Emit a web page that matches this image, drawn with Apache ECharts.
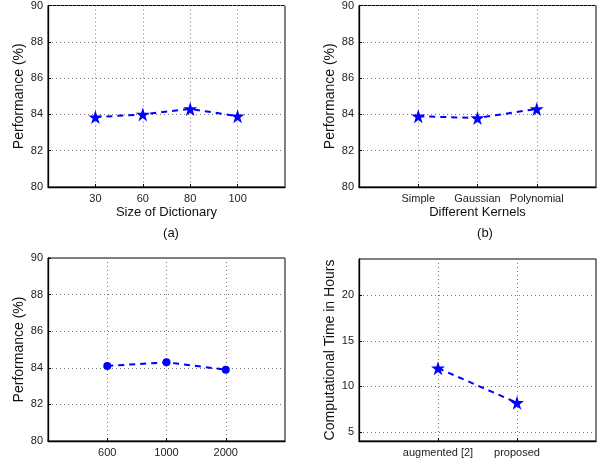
<!DOCTYPE html>
<html>
<head>
<meta charset="utf-8">
<script src="https://cdn.jsdelivr.net/npm/echarts@6/dist/echarts.min.js"></script>
<style>
  html, body { margin: 0; padding: 0; background: #fff; }
  #chart { width: 603px; height: 458px; }
</style>
</head>
<body>
<div id="chart"></div>
<script>
// (a) dictionary size
const dictSizes = ['30', '60', '80', '100']
const dictPerf = [83.85, 84.0, 84.3, 83.9]
// (b) kernels
const kernels = ['Simple', 'Gaussian', 'Polynomial']
const kernelPerf = [83.9, 83.8, 84.3]
// (c) third parameter
const thirdVals = ['600', '1000', '2000']
const thirdPerf = [84.1, 84.3, 83.9]
// (d) computational time
const methods = ['augmented [2]', 'proposed']
const methodHours = [12.0, 8.2]

const perfTicks = [80, 82, 84, 86, 88, 90]
const hourTicks = [5, 10, 15, 20]

const STAR = 'path://M50,0 L61.8,36.2 L100,36.2 L69.1,58.6 L80.9,95.1 L50,72.7 L19.1,95.1 L30.9,58.6 L0,36.2 L38.2,36.2 Z'
const FONT = 'Liberation Sans, Arial, Helvetica, sans-serif'
const BLUE = '#0000ff'

const grids = [
  { left: 48, top: 5, width: 237, height: 182 },
  { left: 359, top: 5, width: 237, height: 182 },
  { left: 48, top: 258, width: 237, height: 184 },
  { left: 359, top: 259, width: 237, height: 183 }
]

const gridLine = { show: true, lineStyle: { color: '#777', type: [1, 3], width: 1 } }

function xAx(i, names, name) {
  const pos = names.map((_, k) => k + 1)
  return {
    type: 'value', gridIndex: i, min: 0, max: names.length + 1,
    name: name || '', nameLocation: 'middle', nameGap: 19,
    nameTextStyle: { fontSize: 13, color: '#111', fontFamily: FONT },
    axisLine: { show: true, lineStyle: { color: '#000', width: 1.3 } },
    axisTick: { show: true, inside: true, length: 3, customValues: pos, lineStyle: { color: '#000' } },
    axisLabel: {
      customValues: pos, color: '#222', fontSize: 11, fontFamily: FONT, margin: 6,
      formatter: v => names[Math.round(v) - 1] || ''
    },
    splitLine: gridLine
  }
}

function yAx(i, min, max, ticks, name) {
  return {
    type: 'value', gridIndex: i, min: min, max: max,
    name: name, nameLocation: 'middle', nameGap: 22,
    nameTextStyle: { fontSize: 14, color: '#111', fontFamily: FONT },
    axisLine: { show: true, lineStyle: { color: '#000', width: 1.3 } },
    axisTick: { show: true, inside: true, length: 3, customValues: ticks, lineStyle: { color: '#000' } },
    axisLabel: { customValues: ticks, color: '#222', fontSize: 11, fontFamily: FONT, margin: 5 },
    splitLine: gridLine
  }
}

function serie(i, vals, symbol, size) {
  return {
    type: 'line', xAxisIndex: i, yAxisIndex: i,
    data: vals.map((v, k) => [k + 1, v]),
    symbol: symbol, symbolSize: size,
    lineStyle: { color: BLUE, width: 2, type: [6, 5] },
    itemStyle: { color: BLUE },
    silent: true, animation: false
  }
}

const chart = echarts.init(document.getElementById('chart'))
chart.setOption({
  animation: false,
  textStyle: { fontFamily: FONT },
  title: [
    { text: '(a)', left: 166, top: 222, textAlign: 'center', textStyle: { fontSize: 13, fontWeight: 'normal', color: '#111' } },
    { text: '(b)', left: 480, top: 222, textAlign: 'center', textStyle: { fontSize: 13, fontWeight: 'normal', color: '#111' } }
  ],
  grid: grids.map(g => Object.assign({ show: true, borderColor: '#000', borderWidth: 1, backgroundColor: '#fff' }, g)),
  xAxis: [
    xAx(0, dictSizes, 'Size of Dictionary'),
    xAx(1, kernels, 'Different Kernels'),
    xAx(2, thirdVals, ''),
    xAx(3, methods, '')
  ],
  yAxis: [
    yAx(0, 80, 90, perfTicks, 'Performance (%)'),
    yAx(1, 80, 90, perfTicks, 'Performance (%)'),
    yAx(2, 80, 90, perfTicks, 'Performance (%)'),
    yAx(3, 4, 24, hourTicks, 'Computational Time in Hours')
  ],
  series: [
    serie(0, dictPerf, STAR, 14),
    serie(1, kernelPerf, STAR, 14),
    serie(2, thirdPerf, 'circle', 8),
    serie(3, methodHours, STAR, 14)
  ]
})
</script>
</body>
</html>
